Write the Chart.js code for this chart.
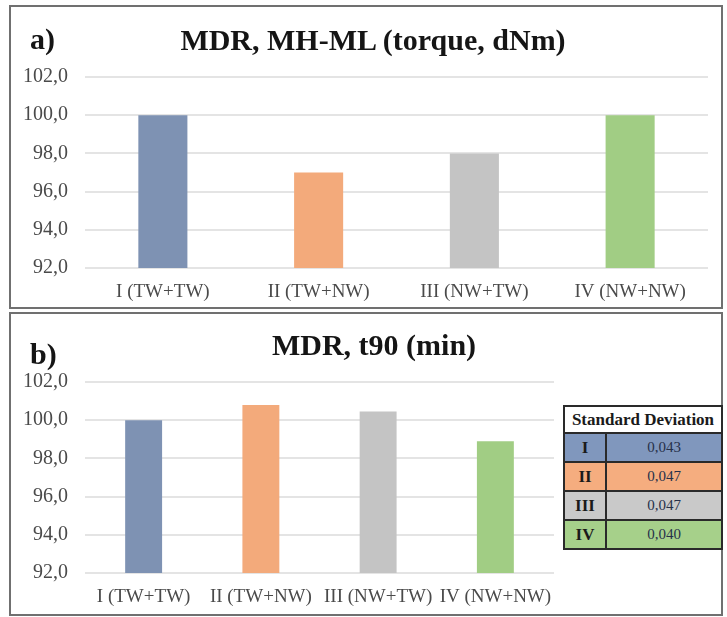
<!DOCTYPE html>
<html lang="en">
<head>
    <meta charset="UTF-8">
    <title>MDR - torque and t90</title>
    <script src="https://cdn.jsdelivr.net/npm/chart.js"></script>
    <style>
        body {
            margin: 0;
            padding: 0;
            background: #fff;
            font-family: 'Liberation Serif', 'DejaVu Serif', serif;
        }
        .page {
            position: relative;
            width: 727px;
            height: 617px;
            overflow: hidden;
        }
        .panel {
            position: absolute;
            left: 9px;
            width: 710px;
            height: 300px;
            border: 2px solid #707070;
        }
        canvas {
            position: absolute;
            left: 0;
        }
        .title, .tag {
            position: absolute;
            font-weight: bold;
            font-size: 30px;
            line-height: 30px;
            color: #151515;
            white-space: nowrap;
        }
        .title {
            transform: translateX(-50%);
        }
        /* standard deviation box */
        .sd {
            position: absolute;
            left: 563px;
            top: 405px;
            width: 160px;
            border-collapse: collapse;
            font-size: 15px;
        }
        .sd td, .sd th {
            border: 2px solid #2a2a2a;
            text-align: center;
            padding: 0;
        }
        .sd th {
            height: 25px;
            font-size: 17px;
            background: #fff;
            color: #1a1a1a;
        }
        .sd td {
            height: 27px;
            color: #26304a;
        }
        .sd td.grp {
            width: 40px;
            font-weight: bold;
            font-size: 17px;
            color: #1a1a1a;
        }
    </style>
</head>
<body>
<div class="page">
    <div class="panel" style="top:5px;"></div>
    <div class="panel" style="top:312px;"></div>

    <canvas id="torqueChart" width="727" height="310" style="top:0;"></canvas>
    <canvas id="t90Chart" width="727" height="307" style="top:310px;"></canvas>

    <div class="tag" style="left:30px; top:24px;">a)</div>
    <div class="title" style="left:373px; top:25px;">MDR, MH-ML (torque, dNm)</div>
    <div class="tag" style="left:30px; top:339px;">b)</div>
    <div class="title" style="left:374px; top:330px;">MDR, t90 (min)</div>

    <table class="sd" id="sdTable">
        <tr><th colspan="2">Standard Deviation</th></tr>
    </table>
</div>

<script>
    // data
    const categories = ['I (TW+TW)', 'II (TW+NW)', 'III (NW+TW)', 'IV (NW+NW)'];
    const torqueValues = [100.0, 97.0, 98.0, 100.0];
    const t90Values = [100.0, 100.8, 100.45, 98.9];
    const yMin = 92;
    const yMax = 102;
    const yStep = 2;
    const sdGroups = ['I', 'II', 'III', 'IV'];
    const sdValues = ['0,043', '0,047', '0,047', '0,040'];

    const barColors = ['#7e92b3', '#f3aa7b', '#c4c4c4', '#a1cd84'];
    const cellColors = ['#8097bd', '#f5ad7f', '#c9c9c9', '#a6d08a'];
    const tickColor = '#4a4a4a';
    const serif = "'Liberation Serif', 'DejaVu Serif', serif";

    // fill the standard deviation table
    const table = document.getElementById('sdTable');
    sdGroups.forEach((g, i) => {
        const tr = document.createElement('tr');
        tr.style.background = cellColors[i];
        tr.innerHTML = '<td class="grp">' + g + '</td><td>' + sdValues[i] + '</td>';
        table.appendChild(tr);
    });

    function makeChart(id, values, pad, xHeight) {
        const ctx = document.getElementById(id).getContext('2d');
        return new Chart(ctx, {
            type: 'bar',
            data: {
                labels: categories,
                datasets: [{
                    data: values,
                    backgroundColor: barColors,
                    borderWidth: 0,
                    barPercentage: 0.315,
                    categoryPercentage: 1
                }]
            },
            options: {
                responsive: false,
                animation: false,
                layout: { padding: pad },
                plugins: {
                    legend: { display: false },
                    tooltip: { enabled: false }
                },
                scales: {
                    x: {
                        grid: { display: false, drawTicks: false },
                        border: { display: false },
                        ticks: {
                            color: tickColor,
                            padding: 13,
                            maxRotation: 0,
                            minRotation: 0,
                            autoSkip: false,
                            font: { family: serif, size: 19 }
                        },
                        afterFit: (scale) => { scale.height = xHeight; }
                    },
                    y: {
                        min: yMin,
                        max: yMax,
                        grid: { color: '#e4e4e4', lineWidth: 2, drawTicks: false },
                        border: { display: false },
                        ticks: {
                            stepSize: yStep,
                            color: tickColor,
                            padding: 17,
                            font: { family: serif, size: 20 },
                            callback: (v) => v.toFixed(1).replace('.', ',')
                        },
                        afterFit: (scale) => { scale.width = 85; }
                    }
                }
            }
        });
    }

    makeChart('torqueChart', torqueValues, { top: 77, right: 19, left: 0, bottom: 0 }, 42);
    makeChart('t90Chart', t90Values, { top: 72, right: 173, left: 0, bottom: 0 }, 44);
</script>
</body>
</html>
